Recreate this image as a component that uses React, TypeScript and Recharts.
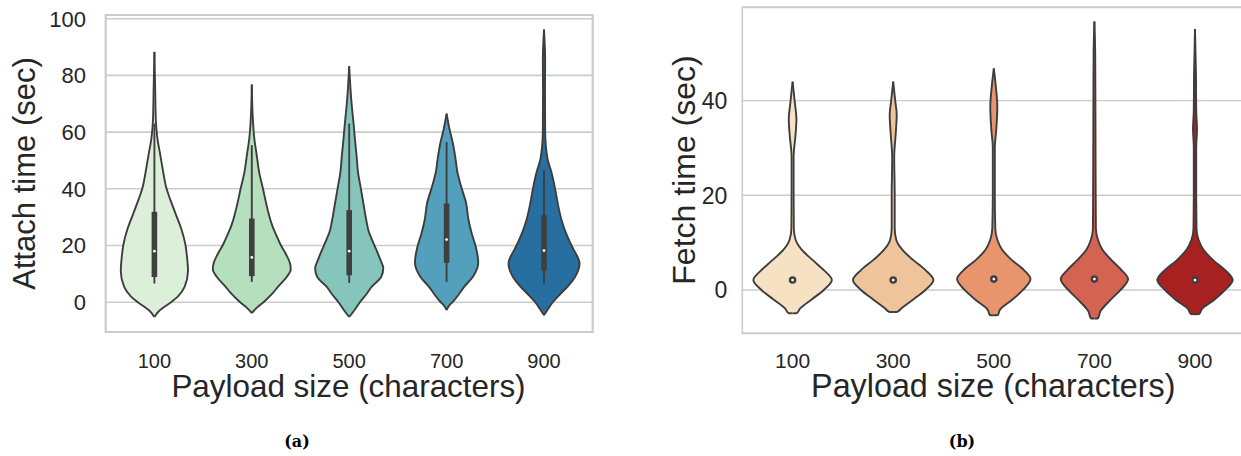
import React from "react";
import {
  ComposedChart, Area, XAxis, YAxis, CartesianGrid,
  ReferenceLine, ReferenceDot, ReferenceArea,
} from "recharts";

const PAYLOADS = ["100", "300", "500", "700", "900"];
const SLOTS = [0, 1, 2, 3, 4];

const ATTACH_COLORS = ["#dcefd9", "#b5dfbd", "#85c5bb", "#52a0bc", "#266fa0"];
const FETCH_COLORS = ["#f6e1c2", "#f0c49b", "#e8956d", "#d46352", "#a62120"];

// violin outlines: [seconds, half width as share of one slot]
const ATTACH_100 = [[-5.2, 0], [-3, 0.05], [0, 0.17], [2, 0.24], [5.4, 0.31], [11, 0.345], [16, 0.335], [20, 0.32], [26, 0.275], [31, 0.22], [36, 0.165], [40, 0.125], [46, 0.09], [52, 0.06], [58, 0.03], [64, 0.015], [75, 0.008], [88.3, 0]];
const ATTACH_300 = [[-3.8, 0], [-2, 0.05], [0, 0.12], [3, 0.21], [5.5, 0.27], [9, 0.36], [11.5, 0.4], [14, 0.39], [17, 0.35], [20, 0.3], [23, 0.26], [27, 0.21], [31, 0.175], [36, 0.14], [40, 0.115], [46, 0.075], [52, 0.05], [58, 0.025], [65, 0.01], [76.8, 0]];
const ATTACH_500 = [[-5.2, 0], [-3, 0.05], [0, 0.11], [3, 0.18], [5.4, 0.23], [9, 0.33], [12, 0.35], [15, 0.32], [20, 0.26], [25, 0.2], [29, 0.175], [35, 0.145], [40, 0.12], [46, 0.09], [52, 0.075], [57, 0.06], [63, 0.045], [68, 0.03], [72, 0.02], [83.2, 0]];
const ATTACH_700 = [[-2.8, 0], [-1, 0.03], [0, 0.06], [3, 0.13], [5.4, 0.18], [9, 0.27], [14, 0.325], [19.5, 0.3], [24, 0.26], [29, 0.225], [35, 0.2], [40.7, 0.15], [46, 0.11], [51, 0.09], [56, 0.065], [61, 0.03], [66.5, 0]];
const ATTACH_900 = [[-4.6, 0], [-2.5, 0.04], [0, 0.09], [3, 0.17], [5.4, 0.24], [9, 0.32], [13.6, 0.365], [19.5, 0.29], [24, 0.23], [29, 0.18], [35, 0.14], [40.7, 0.11], [46, 0.075], [50, 0.04], [54.8, 0.02], [60, 0.012], [75, 0.01], [85, 0.012], [96.2, 0]];

const FETCH_100 = [[-4.95, 0], [-4.9, 0.04], [-3.9, 0.075], [-2, 0.19], [0, 0.31], [2.1, 0.39], [4.2, 0.31], [6.3, 0.2], [8.5, 0.09], [10.6, 0.03], [13, 0.012], [20, 0.01], [28, 0.01], [33, 0.03], [36, 0.038], [40, 0.02], [44, 0]];
const FETCH_300 = [[-4.65, 0], [-4.6, 0.04], [-3.9, 0.08], [-2, 0.2], [0, 0.32], [2.1, 0.4], [4.2, 0.32], [6.3, 0.2], [8.5, 0.09], [10.6, 0.03], [13, 0.015], [20, 0.015], [28, 0.01], [33, 0.025], [37, 0.035], [40, 0.02], [44, 0]];
const FETCH_500 = [[-5.35, 0], [-5.3, 0.04], [-4.2, 0.06], [-2.1, 0.18], [0, 0.29], [2.3, 0.365], [4.2, 0.3], [6.3, 0.18], [8.5, 0.083], [10.6, 0.035], [13, 0.015], [20, 0.01], [30, 0.01], [34, 0.025], [38.7, 0.035], [43, 0.02], [46.8, 0]];
const FETCH_700 = [[-6.05, 0], [-6, 0.035], [-4.5, 0.06], [-2.1, 0.16], [0, 0.26], [2.3, 0.335], [4.2, 0.27], [6.3, 0.17], [8.5, 0.08], [10.6, 0.035], [13, 0.015], [25, 0.012], [40, 0.01], [50, 0.008], [56.7, 0]];
const FETCH_900 = [[-5.15, 0], [-5.1, 0.04], [-4, 0.07], [-2.1, 0.19], [0, 0.3], [2.1, 0.375], [4.2, 0.3], [6.3, 0.18], [8.5, 0.085], [10.6, 0.035], [13, 0.015], [20, 0.012], [30, 0.012], [34, 0.02], [38, 0.012], [45, 0.01], [55.1, 0]];

// inner box of the attach violins
const ATTACH_WHISKER_LO = [6.6, 7.2, 6.8, 7.2, 6.6];
const ATTACH_WHISKER_HI = [63, 55.4, 63, 56.5, 46.6];
const ATTACH_Q1 = [8.9, 9.2, 9.5, 13.9, 11.3];
const ATTACH_Q3 = [31.9, 29.5, 32.5, 34.8, 30.7];
const ATTACH_MEDIAN = [18, 15.8, 18, 22.1, 18.2];

const FETCH_MEDIAN = [2.1, 2.1, 2.3, 2.3, 2.1];

const INK = "#3d3d3d";
const GRID = "#cccccc";
const TEXT = "#262626";
const SANS = '"Liberation Sans", Arial, sans-serif';
const SERIF = '"DejaVu Serif", "Liberation Serif", serif';

// one row per height, each violin gets [left, right] or a gap
function buildRows(profiles: number[][][]) {
  const heights = Array.from(new Set(profiles.flatMap((p) => p.map(([v]) => v)))).sort((a, b) => a - b);
  return heights.map((v) => {
    const row: Record<string, unknown> = { v };
    profiles.forEach((p, i) => {
      const hit = p.find(([pv]) => pv === v);
      row[`r${i}`] = hit ? [i - hit[1], i + hit[1]] : [null, null];
    });
    return row;
  });
}

const attachRows = buildRows([ATTACH_100, ATTACH_300, ATTACH_500, ATTACH_700, ATTACH_900]);
const fetchRows = buildRows([FETCH_100, FETCH_300, FETCH_500, FETCH_700, FETCH_900]);

const xTick = (size: number) => (p: any) => (
  <text x={p.x} y={p.y} dy="0.71em" textAnchor="middle" fontSize={size} fontFamily={SANS} fill={TEXT}>
    {PAYLOADS[p.payload.value]}
  </text>
);

const yTick = (size: number) => (p: any) => (
  <text x={p.x} y={p.y} dy="0.36em" textAnchor="end" fontSize={size} fontFamily={SANS} fill={TEXT}>
    {p.payload.value}
  </text>
);

export default function App() {
  return (
    <div style={{ position: "fixed", left: 0, top: 0, width: 1241, height: 456, overflow: "hidden", background: "#fff" }}>
      <div style={{ position: "absolute", left: 0, top: 0 }}>
        <ComposedChart layout="vertical" width={610} height={400} data={attachRows}
          margin={{ top: 15, right: 17.3, bottom: 0, left: 45.7 }}>
          <CartesianGrid vertical={false} stroke={GRID} strokeWidth={1.6} />
          <XAxis type="number" domain={[-0.5, 4.5]} ticks={SLOTS} allowDataOverflow interval={0}
            axisLine={false} tickLine={false} tickSize={0} tickMargin={21.3} height={68}
            tick={xTick(20)} />
          <YAxis type="number" dataKey="v" reversed domain={[-10.5, 101.3]} ticks={[0, 20, 40, 60, 80, 100]}
            allowDataOverflow interval={0} axisLine={false} tickLine={false} tickSize={0} tickMargin={19.7}
            width={60} tick={yTick(22)} />
          {SLOTS.map((i) => (
            <Area key={i} dataKey={`r${i}`} type="monotone" fill={ATTACH_COLORS[i]} fillOpacity={1}
              stroke={INK} strokeWidth={1.9} connectNulls dot={false} activeDot={false}
              isAnimationActive={false} />
          ))}
          {SLOTS.map((i) => (
            <ReferenceLine key={`w${i}`} segment={[{ x: i, y: ATTACH_WHISKER_LO[i] }, { x: i, y: ATTACH_WHISKER_HI[i] }]}
              stroke="#3f3f3f" strokeWidth={1.9} />
          ))}
          {SLOTS.map((i) => (
            <ReferenceLine key={`q${i}`} segment={[{ x: i, y: ATTACH_Q1[i] }, { x: i, y: ATTACH_Q3[i] }]}
              stroke="#3f3f3f" strokeWidth={5.6} />
          ))}
          {SLOTS.map((i) => (
            <ReferenceDot key={`m${i}`} x={i} y={ATTACH_MEDIAN[i]} r={1.4} fill="#ffffff" stroke="none" />
          ))}
          <ReferenceArea x1={-0.5} x2={4.5} y1={-10.5} y2={101.3} fill="none" fillOpacity={0}
            stroke={GRID} strokeWidth={2.2} ifOverflow="visible" />
        </ComposedChart>
      </div>

      <div style={{ position: "absolute", left: 640, top: 0 }}>
        <ComposedChart layout="vertical" width={620} height={400} data={fetchRows}
          margin={{ top: 7.3, right: 14.7, bottom: 0, left: 42.3 }}>
          <CartesianGrid vertical={false} stroke={GRID} strokeWidth={1.4} />
          <XAxis type="number" domain={[-0.5, 4.5]} ticks={SLOTS} allowDataOverflow interval={0}
            axisLine={false} tickLine={false} tickSize={0} tickMargin={20} height={66.7}
            tick={xTick(21)} />
          <YAxis type="number" dataKey="v" reversed domain={[-9.15, 59.7]} ticks={[0, 20, 40]}
            allowDataOverflow interval={0} axisLine={false} tickLine={false} tickSize={0} tickMargin={15}
            width={60} tick={yTick(23)} />
          {SLOTS.map((i) => (
            <Area key={i} dataKey={`r${i}`} type="monotone" fill={FETCH_COLORS[i]} fillOpacity={1}
              stroke={INK} strokeWidth={1.9} connectNulls dot={false} activeDot={false}
              isAnimationActive={false} />
          ))}
          {SLOTS.map((i) => (
            <ReferenceDot key={`m${i}`} x={i} y={FETCH_MEDIAN[i]} r={2.6} fill="#ffffff"
              stroke="#3f3f3f" strokeWidth={2.4} />
          ))}
          <ReferenceArea x1={-0.5} x2={4.5} y1={-9.15} y2={59.7} fill="none" fillOpacity={0}
            stroke={GRID} strokeWidth={1.7} ifOverflow="visible" />
        </ComposedChart>
      </div>

      <svg width={1241} height={456} style={{ position: "absolute", left: 0, top: 0, pointerEvents: "none" }}>
        <text transform="translate(35,173.5) rotate(-90)" textAnchor="middle" fontFamily={SANS} fontSize={31} fill={TEXT}>
          Attach time (sec)
        </text>
        <text x={348.5} y={397} textAnchor="middle" fontFamily={SANS} fontSize={31.4} fill={TEXT}>
          Payload size (characters)
        </text>
        <text transform="translate(695,170) rotate(-90)" textAnchor="middle" fontFamily={SANS} fontSize={32} fill={TEXT}>
          Fetch time (sec)
        </text>
        <text x={993.3} y={397} textAnchor="middle" fontFamily={SANS} fontSize={32.3} fill={TEXT}>
          Payload size (characters)
        </text>
        <text x={297} y={447} textAnchor="middle" fontFamily={SERIF} fontWeight="bold" fontSize={16} fill="#000">
          (a)
        </text>
        <text x={962} y={447} textAnchor="middle" fontFamily={SERIF} fontWeight="bold" fontSize={16} fill="#000">
          (b)
        </text>
      </svg>
    </div>
  );
}
